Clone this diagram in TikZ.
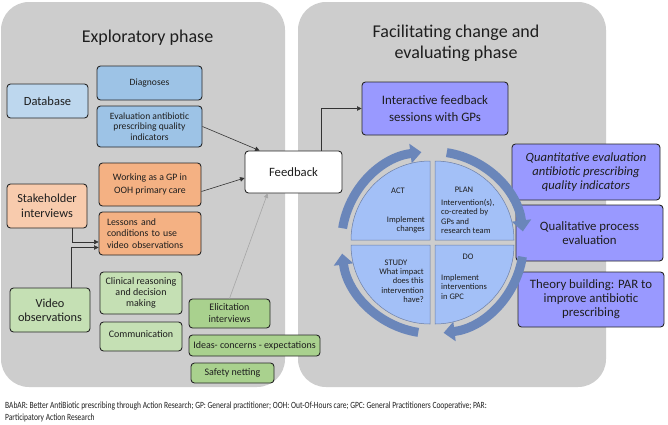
\documentclass[tikz,border=0pt]{standalone}
\usepackage{fontspec}
\setmainfont{Carlito}
\usetikzlibrary{arrows.meta,calc}
\definecolor{panelgray}{HTML}{CDCDCD}
\definecolor{dbL}{HTML}{BDD7EE}
\definecolor{dbD}{HTML}{9DC3E6}
\definecolor{orL}{HTML}{F8CBAD}
\definecolor{orD}{HTML}{F4B183}
\definecolor{grL}{HTML}{C5E0B4}
\definecolor{grD}{HTML}{A9D18E}
\definecolor{purp}{HTML}{9999FF}
\definecolor{quad}{HTML}{A3C0F7}
\definecolor{quadline}{HTML}{6C7FA6}
\definecolor{arcblue}{HTML}{6A86BA}
\definecolor{txt}{HTML}{1E1E1E}
\newcommand\myfs[2]{\fontsize{#1}{#2}\selectfont}
\begin{document}
\begin{tikzpicture}[x=1pt,y=-1pt,
  box/.style={draw=black!85, line width=0.9pt, rounded corners=3.5pt, align=center, inner sep=2pt, text=txt},
  conn/.style={draw=black!80, line width=0.6pt, -{Triangle[length=4.5pt,width=4.5pt]}},
  gconn/.style={draw=black!35, line width=0.6pt, -{Triangle[length=4.5pt,width=4.5pt]}},
  quadrant/.style={fill=quad, draw=quadline, line width=0.5pt},
  qtxt/.style={inner sep=0pt, text=txt, font=\myfs{8.5}{9.2}},
  cyc/.style={draw=arcblue, line width=9pt, -{Triangle[length=11pt,width=19pt]}},
  title/.style={inner sep=0pt, text=txt, align=center, font=\myfs{18}{21}}
]
\useasboundingbox (0,0) rectangle (668,424);
\fill[white] (0,0) rectangle (668,424);
% panels
\fill[panelgray, rounded corners=28pt] (1,2) rectangle (285,387);
\fill[panelgray, rounded corners=28pt] (298,2) rectangle (606,387);
\node[title] (t1) at (147.5,38) {Exploratory phase};
\node[title] (t2) at (456,43.5) {Facilitating change and\\evaluating phase};

% left boxes
\node[box, fill=dbL, minimum width=81, minimum height=34, font=\myfs{12.5}{15}] (db) at (47.5,101) {Database};
\node[box, fill=dbD, minimum width=105, minimum height=34, font=\myfs{9.6}{11}] (diag) at (149.5,83) {Diagnoses};
\node[box, fill=dbD, minimum width=105, minimum height=41, font=\myfs{9.6}{10.6}] (evalq) at (149.5,126.5) {Evaluation antibiotic\\prescribing quality\\indicators};
\node[box, fill=white, minimum width=97, minimum height=42, font=\myfs{12.7}{15}] (fb) at (293.5,172) {Feedback};
\node[box, fill=orD, minimum width=102, minimum height=43, font=\myfs{9.8}{12.5}] (work) at (150,184.5) {Working as a GP in\\OOH primary care};
\node[box, fill=orL, minimum width=80, minimum height=44, font=\myfs{12.3}{14.8}] (stake) at (47,206) {Stakeholder\\interviews};
\node[box, fill=orD, text width=86, inner xsep=8pt, align=left, minimum height=43, font=\myfs{9.8}{11.6}] (lessons) at (150,233.5) {Lessons and\\conditions to use\\video observations};
\node[box, fill=grL, minimum width=80, minimum height=44, font=\myfs{12.3}{13.6}] (video) at (50,310) {Video\\observations};
\node[box, fill=grL, minimum width=82, minimum height=42, font=\myfs{10}{10.9}] (clin) at (141,293) {Clinical reasoning\\and decision\\making};
\node[box, fill=grL, minimum width=82, minimum height=29, text depth=5pt, font=\myfs{10}{12}] (comm) at (141,336.5) {Communication};
\node[box, fill=grD, minimum width=81, minimum height=29, font=\myfs{10}{12}] (elic) at (229.5,313.5) {Elicitation\\interviews};
\node[box, fill=grD, minimum width=131, minimum height=21, font=\myfs{10}{12}] (ideas) at (254.5,345.5) {Ideas- concerns - expectations};
\node[box, fill=grD, minimum width=83, minimum height=20, font=\myfs{10}{12}] (safety) at (232.5,373) {Safety netting};

% right boxes
\node[box, fill=purp, minimum width=146, minimum height=53, font=\myfs{12.9}{16.5}] (inter) at (435,108.5) {Interactive feedback\\sessions with GPs};
\node[box, fill=purp, minimum width=148, minimum height=56, font=\myfs{12.6}{14}\itshape] (quant) at (586,172) {Quantitative evaluation\\antibiotic prescribing\\quality indicators};
\node[box, fill=purp, minimum width=147, minimum height=56, font=\myfs{12.8}{14}] (qual) at (589.5,233) {Qualitative process\\evaluation};
\node[box, fill=purp, minimum width=146, minimum height=55, font=\myfs{12.8}{14}] (theory) at (591,299.5) {Theory building: PAR to\\improve antibiotic\\prescribing};

% connectors
\draw[conn] (evalq.east) -- ($(fb.north west)+(15,0)$);
\draw[conn] ($(work.east)+(0,7)$) -- ($(fb.west)+(0,6)$);
\draw[gconn] (elic.north) -- ($(fb.south west)+(23,0)$);
\draw[conn] ($(stake.south)+(25,0)$) |- ($(lessons.west)+(0,8.5)$);
\draw[conn] ($(video.north)+(21,0)$) |- ($(lessons.west)+(0,14)$);
\draw[conn] ($(fb.north)+(27.5,0)$) |- (inter.west);

% PDSA circle
\coordinate (C) at (432.5,242.5);
\draw[quadrant] (430,240) -- (351,240) arc[start angle=180, end angle=270, radius=79] -- cycle;
\draw[quadrant] (435,240) -- (435,161) arc[start angle=270, end angle=360, radius=79] -- cycle;
\draw[quadrant] (435,245) -- (514,245) arc[start angle=0, end angle=90, radius=79] -- cycle;
\draw[quadrant] (430,245) -- (430,324) arc[start angle=90, end angle=180, radius=79] -- cycle;

\node[qtxt] (act) at (398,191) {ACT};
\node[qtxt, anchor=east, align=right] (actb) at (425,224.5) {Implement\\changes};
\node[qtxt] (plan) at (464,190) {PLAN};
\node[qtxt, anchor=west, align=left] (planb) at (441,216.5) {Intervention(s),\\co-created by\\GPs and\\research team};
\node[qtxt] (study) at (396,263) {STUDY};
\node[qtxt, anchor=east, align=right] (studyb) at (424,285.5) {What impact\\does this\\intervention\\have?};
\node[qtxt] (do) at (468,257) {DO};
\node[qtxt, anchor=west, align=left] (dob) at (441,287) {Implement\\interventions\\in GPC};

\draw[cyc] ($(C)+(189:91)$) arc[start angle=189, end angle=263, radius=91];
\draw[cyc] ($(C)+(279:91)$) arc[start angle=279, end angle=353, radius=91];
\draw[cyc] ($(C)+(9:91)$) arc[start angle=9, end angle=83, radius=91];
\draw[cyc] ($(C)+(99:91)$) arc[start angle=99, end angle=173, radius=91];

% footer
\node[anchor=west, align=left, inner sep=0pt, text=txt, font=\myfs{9.5}{12}, xscale=0.79, transform shape] (foot) at (5,412) {BAbAR: Better AntiBiotic prescribing through Action Research; GP: General practitioner; OOH: Out-Of-Hours care; GPC: General Practitioners Cooperative; PAR:\\Participatory Action Research};
\end{tikzpicture}
\end{document}
